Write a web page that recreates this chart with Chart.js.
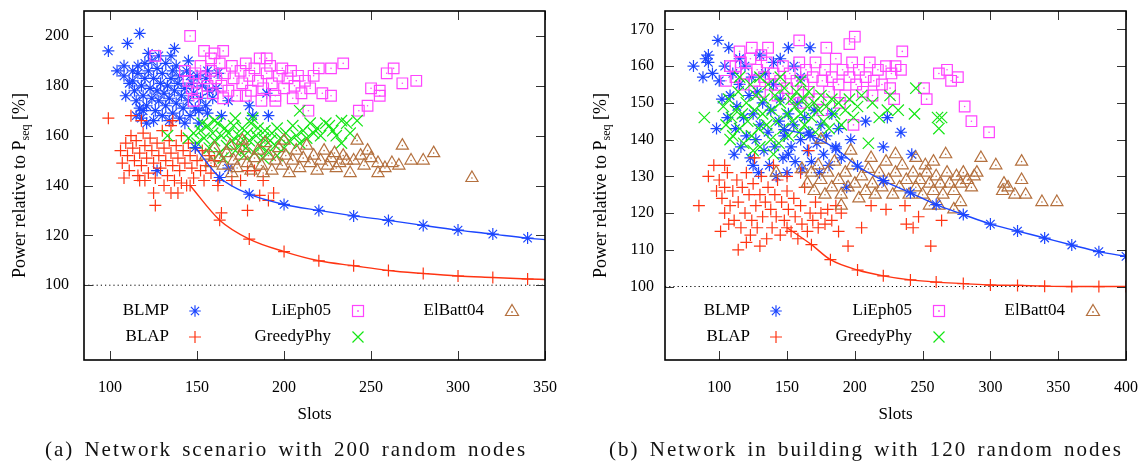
<!DOCTYPE html>
<html>
<head>
<meta charset="utf-8">
<script src="https://cdn.jsdelivr.net/npm/chart.js@4.4.1/dist/chart.umd.min.js"></script>
<style>
html, body { margin: 0; padding: 0; background: #fff; }
#wrap { position: relative; width: 1141px; height: 461px; overflow: hidden; }
canvas { position: absolute; top: 0; }
#chartA { left: 0; }
#chartB { left: 570px; }
.cap { position: absolute; top: 438px; font-family: "Liberation Serif", serif; font-size: 21px; letter-spacing: 2px; word-spacing: 3px;
       white-space: nowrap; transform: translateX(-50%); color: #111; line-height: 23px; }
</style>
</head>
<body>
<div id="wrap">
<canvas id="chartA" width="570" height="461"></canvas>
<canvas id="chartB" width="571" height="461"></canvas>
<div class="cap" style="left:286px">(a) Network scenario with 200 random nodes</div>
<div class="cap" style="left:866px">(b) Network in building with 120 random nodes</div>
</div>
<script>
// ---- (a) 200 random nodes ----
const xTicksA = [100, 150, 200, 250, 300, 350]
const yTicksA = [100, 120, 140, 160, 180, 200]

const blmpFitA = [[149,155.2],[163,143.2],[180,136.5],[200,132.4],[220,130],[240,127.8],[260,126],[280,124],[300,122.1],[320,120.5],[340,118.9],[350,118.3]]
const blapFitA = [[146,140],[163,126.1],[180,118.5],[200,113.5],[220,109.8],[240,107.8],[260,105.9],[280,104.7],[300,103.7],[320,103.1],[340,102.5],[350,102.3]]

const blmpA = [[99,194],[104,186],[108,188],[108,184],[110,197],[117,201],[116,188],[109,176],[119,170],[118,167],
    [127,146],[137,195],[135,192],[145,190],[156,186],[162,185],[168,174],[164,168],[156,169],[168,147],
    [180,172],[182,168],[191,168],[190,177],[151,165],[151,170],
    [113,182],[114,178],[115,174],[116,185],[118,180],[119,176],[120,183],[120,189],[121,172],[122,186],
    [123,179],[124,175],[124,190],[125,183],[126,170],[127,178],[127,187],[128,174],[129,181],[130,168],
    [130,185],[131,177],[132,172],[132,189],[133,180],[134,175],[135,183],[136,169],[136,186],[137,178],
    [138,173],[139,181],[140,167],[140,184],[141,176],[142,171],[143,179],[144,186],[145,174],[146,168],
    [147,181],[148,177],[149,171],[150,184],[152,175],[153,180],[155,172],[157,178],[159,175],[161,179],
    [117,171],[121,165],[125,166],[134,166],[143,165],[128,192],[122,193],[138,188],[146,184],[155,183],
    [113,186],[111,181],[115,168]]

const blapA = [[99,167],[112,168],[118,166],[126,132],[120,142],[135,137],[139,137],[136,166],[135,164],[179,130],
    [164,129],[194,137],[188,142],[183,146],[179,146],[175,142],[186,136],[191,134],[154,142],[162,142],
    [106,154],[107,149],[109,157],[110,152],[111,146],[112,160],[113,155],[114,150],[115,158],[116,144],
    [117,153],[118,148],[119,161],[120,156],[121,151],[122,145],[123,159],[124,154],[125,149],[126,143],
    [127,157],[128,152],[129,147],[130,162],[131,155],[132,150],[133,144],[134,158],[135,153],[136,148],
    [137,142],[138,156],[139,151],[140,146],[141,160],[142,154],[143,149],[144,140],[145,157],[146,152],
    [147,147],[148,143],[149,155],[150,150],[152,146],[153,154],[155,148],[157,152],[158,145],[160,150],
    [141,141],[131,140],[125,137],[117,142],[108,143],[170,142],[162,140]]

const liephA = [[146,200],[126,192],[276,182],[268,181],[263,187],[259,185],[255,176],[255,178],[250,179],[248,172],
    [243,170],[234,189],[227,187],[227,176],[214,170],[220,187],[222,177],[165,194],[154,194],[187,174],
    [160,193],[158,191],
    [143,186],[145,182],[147,179],[149,185],[150,177],[152,188],[154,183],[156,180],[158,186],[159,177],
    [161,183],[163,189],[164,180],[166,185],[168,178],[170,188],[171,183],[173,176],[175,186],[176,181],
    [178,189],[180,184],[181,178],[183,187],[185,182],[186,191],[188,179],[190,185],[192,188],[193,181],
    [195,176],[197,184],[199,187],[200,179],[202,183],[204,186],[206,180],[208,184],[210,177],[212,182],
    [215,179],[217,184],[148,174],[165,175],[178,176],[195,174],[205,175],[190,191]]

const greedyA = [[209,170],[242,166],[233,157],[233,166],[226,164],[172,167],[133,160],[145,159],
    [150,157],[152,162],[154,159],[156,164],[157,155],[159,161],[160,158],[162,165],[163,153],[164,160],
    [166,163],[167,156],[168,161],[170,158],[171,164],[172,154],[174,160],[175,157],[176,163],[178,155],
    [179,161],[180,158],[181,165],[183,153],[184,160],[185,163],[186,156],[188,159],[189,162],[190,154],
    [192,158],[193,161],[195,156],[196,163],[198,159],[200,155],[201,161],[203,158],[205,164],[207,160],
    [209,157],[211,162],[213,159],[215,165],[217,161],[219,163],[221,160],[224,165],[228,162],[230,160],
    [236,165],[238,161],[165,151],[177,152],[188,151],[196,152],[182,167],[160,166],[153,165],[148,161]]

const elbattA = [[308,143],[286,153],[280,150],[273,150],[268,156],[266,148],[254,149],[254,145],[248,154],[246,148],
    [242,158],[238,145],[230,147],
    [155,152],[158,149],[160,155],[163,151],[165,148],[167,153],[169,156],[171,150],[173,147],[175,152],
    [177,155],[179,149],[181,146],[183,151],[185,154],[187,148],[189,157],[191,152],[193,146],[195,150],
    [197,155],[199,148],[201,152],[203,145],[205,150],[207,154],[209,147],[211,151],[213,156],[215,149],
    [217,152],[219,146],[221,150],[223,154],[225,148],[227,151],[229,153],[232,149],[234,152],[236,150],
    [240,150],[244,152],[250,151],[258,147],[262,149],[170,145],[188,145],[200,158],[176,158]]

// ---- (b) building, 120 random nodes ----
const xTicksB = [100, 150, 200, 250, 300, 350, 400]
const yTicksB = [100, 110, 120, 130, 140, 150, 160, 170]

const blmpFitB = [[148,142.7],[167,141.1],[186,137.5],[202,132.8],[221,128.8],[241,125.5],[260,122.3],[280,119.6],
    [300,117],[320,115.1],[340,113.2],[360,111.3],[380,109.5],[400,108.2]]
const blapFitB = [[150,116],[168,111.4],[182,107.3],[202,104.5],[221,102.9],[241,101.8],[260,101.2],[280,100.8],
    [300,100.4],[320,100.3],[340,100.1],[360,100],[380,100],[400,100]]

const blmpB = [[81,160],[99,167],[107,165],[92,163],[92,161],[98,143],[102,151],[111,136],[125,133],[151,136],
    [167,165],[151,165],[221,138],[242,136],[234,142],[224,146],[208,145],[197,140],[194,127],
    [88,157],[90,162],[95,158],[100,156],[104,160],[106,146],[108,152],[110,158],[112,143],[113,149],
    [115,155],[116,138],[118,146],[119,160],[120,141],[122,152],[123,135],[124,157],[125,147],[127,140],
    [128,153],[129,131],[130,144],[132,150],[133,137],[134,158],[136,142],[137,133],[138,148],[140,155],
    [141,138],[142,130],[144,145],[145,151],[147,135],[148,141],[150,131],[151,147],[153,138],[155,144],
    [156,134],[158,150],[160,140],[161,132],[163,146],[165,137],[166,142],[168,134],[170,148],[172,139],
    [174,131],[175,144],[177,136],[179,141],[181,133],[183,147],[186,138],[188,143],[190,135],[160,157],
    [145,162],[130,163],[115,162],[140,161],[155,160]]

const blapB = [[85,122],[92,130],[96,133],[104,133],[101,115],[114,110],[104,120],[126,135],[166,137],[195,111],
    [188,115],[205,116],[212,122],[223,121],[237,122],[247,119],[238,117],[243,116],[256,111],[264,118],
    [98,126],[100,129],[102,124],[104,127],[106,131],[108,122],[110,126],[111,118],[113,129],[114,123],
    [116,116],[117,127],[119,120],[120,131],[122,125],[123,114],[124,118],[125,128],[127,122],[128,116],
    [130,125],[131,130],[132,119],[134,123],[135,113],[136,127],[138,121],[139,116],[141,125],[142,119],
    [143,129],[145,114],[146,123],[148,118],[150,126],[151,121],[153,115],[155,124],[156,119],[158,113],
    [160,122],[161,117],[163,127],[165,115],[167,120],[169,118],[171,123],[173,116],[175,120],[178,117],
    [180,121],[183,118],[186,122],[190,120],[120,112],[130,111],[107,117],[140,133],[150,130],[160,131]]

const liephB = [[299,142],[286,145],[281,149],[276,157],[271,156],[268,159],[262,158],[253,151],[251,154],[235,164],
    [234,159],[229,151],[226,154],[200,168],[196,166],[159,167],[136,165],[179,165],[199,144],[105,156],
    [115,164],[112,160],[124,165],[131,163],
    [108,160],[112,157],[116,161],[118,155],[120,158],[123,162],[126,156],[128,159],[130,153],[133,157],
    [135,161],[138,155],[140,158],[143,152],[145,156],[147,160],[150,154],[152,158],[155,151],[157,156],
    [159,161],[162,155],[164,159],[166,153],[169,157],[171,161],[173,151],[176,156],[178,159],[181,153],
    [183,157],[186,162],[188,155],[191,159],[193,152],[196,157],[198,161],[201,155],[203,159],[206,153],
    [208,157],[211,161],[214,156],[217,159],[220,155],[223,160],[227,158],[230,160],[189,150],[176,148],
    [213,152],[160,150]]

const greedyB = [[89,146],[108,140],[210,139],[245,154],[244,147],[261,146],[262,143],[264,146],[224,148],[218,146],
    [213,150],[226,152],[232,148],
    [103,149],[105,144],[107,151],[109,146],[110,141],[112,148],[114,153],[115,143],[117,147],[118,139],
    [120,150],[121,145],[123,155],[124,141],[126,148],[127,152],[129,143],[130,138],[132,147],[133,151],
    [135,144],[136,155],[138,140],[139,148],[141,152],[142,145],[144,139],[145,150],[147,143],[148,154],
    [150,147],[151,141],[153,151],[154,145],[156,149],[157,153],[159,142],[160,147],[162,151],[163,144],
    [165,149],[166,153],[168,146],[170,150],[171,142],[173,148],[175,152],[177,145],[179,149],[181,143],
    [183,151],[185,147],[188,150],[190,144],[193,148],[196,151],[199,146],[202,149],[205,152],[115,157],
    [130,157],[145,157],[160,156],[140,136],[125,137]]

const elbattB = [[349,123],[338,123],[326,125],[323,129],[323,134],[318,125],[309,126],[304,133],[293,135],[290,131],
    [267,136],[252,133],[197,137],[175,140],[161,132],[142,131],[273,121],[278,123],[313,127],[310,128],
    [165,128],[168,131],[170,126],[173,133],[175,129],[178,125],[180,131],[183,127],[185,134],[188,129],
    [190,125],[193,131],[195,127],[198,133],[200,128],[203,124],[205,130],[208,126],[210,132],[213,128],
    [215,125],[218,131],[220,127],[223,134],[225,129],[228,125],[230,131],[233,127],[235,133],[238,129],
    [240,125],[243,131],[245,127],[248,129],[250,125],[253,131],[255,128],[258,126],[260,130],[263,128],
    [265,125],[268,131],[270,128],[273,126],[275,130],[278,128],[280,131],[283,129],[286,127],[288,130],
    [230,136],[212,135],[245,135],[258,134],[190,122],[255,122],[262,122]]

const FONT = '"Liberation Serif", "Times New Roman", serif'
const colors = {
    blue: '#1c46ff',
    red: '#ff3412',
    magenta: '#ff44ff',
    green: '#14e614',
    brown: '#b4703e',
}

function pts(list) { return list.map((p) => ({x: p[0], y: p[1]})) }

// small hand drawn markers for the legend, gnuplot style
function drawSym(ctx, style, x, y, color) {
    ctx.save()
    ctx.strokeStyle = color
    ctx.fillStyle = color
    ctx.lineWidth = 1.2
    ctx.beginPath()
    if (style == 'star') {
        const r = 5.8, d = 4.1
        ctx.moveTo(x - r, y); ctx.lineTo(x + r, y)
        ctx.moveTo(x, y - r); ctx.lineTo(x, y + r)
        ctx.moveTo(x - d, y - d); ctx.lineTo(x + d, y + d)
        ctx.moveTo(x - d, y + d); ctx.lineTo(x + d, y - d)
        ctx.stroke()
    } else if (style == 'cross') {
        const r = 6
        ctx.moveTo(x - r, y); ctx.lineTo(x + r, y)
        ctx.moveTo(x, y - r); ctx.lineTo(x, y + r)
        ctx.stroke()
    } else if (style == 'crossRot') {
        const d = 5.5
        ctx.moveTo(x - d, y - d); ctx.lineTo(x + d, y + d)
        ctx.moveTo(x - d, y + d); ctx.lineTo(x + d, y - d)
        ctx.stroke()
    } else if (style == 'rect') {
        ctx.strokeRect(x - 5.5, y - 5.5, 11, 11)
        ctx.fillRect(x - 0.8, y - 0.8, 1.6, 1.6)
    } else if (style == 'triangle') {
        ctx.moveTo(x, y - 6.5); ctx.lineTo(x + 6.5, y + 4.5); ctx.lineTo(x - 6.5, y + 4.5); ctx.closePath()
        ctx.stroke()
        ctx.fillRect(x - 0.8, y + 0.2, 1.6, 1.6)
    }
    ctx.restore()
}

const gnuplotLook = {
    id: 'gnuplotLook',
    afterDraw(chart, args, opts) {
        const ctx = chart.ctx
        const ca = chart.chartArea
        const xs = chart.scales.x, ys = chart.scales.y
        ctx.save()
        // inner tick marks on all four sides
        ctx.strokeStyle = '#333'
        ctx.lineWidth = 1
        ctx.beginPath()
        opts.xTicks.forEach((v) => {
            const px = Math.round(xs.getPixelForValue(v)) + 0.5
            ctx.moveTo(px, ca.bottom); ctx.lineTo(px, ca.bottom - 9)
            ctx.moveTo(px, ca.top); ctx.lineTo(px, ca.top + 9)
        })
        opts.yTicks.forEach((v) => {
            const py = Math.round(ys.getPixelForValue(v)) + 0.5
            ctx.moveTo(ca.left, py); ctx.lineTo(ca.left + 9, py)
            ctx.moveTo(ca.right, py); ctx.lineTo(ca.right - 9, py)
        })
        ctx.stroke()
        // frame
        ctx.strokeStyle = '#000'
        ctx.lineWidth = 1.6
        ctx.strokeRect(ca.left, ca.top, ca.right - ca.left, ca.bottom - ca.top)

        // y axis title with subscript
        ctx.fillStyle = '#000'
        ctx.translate(opts.titleX, (ca.top + ca.bottom) / 2)
        ctx.rotate(-Math.PI / 2)
        const mainFont = '18px ' + FONT, subFont = '12px ' + FONT
        const a = 'Power relative to P', s = 'seq', b = ' [%]'
        ctx.font = mainFont
        const wa = ctx.measureText(a).width, wb = ctx.measureText(b).width
        ctx.font = subFont
        const ws = ctx.measureText(s).width
        let x0 = -(wa + ws + wb) / 2
        ctx.textBaseline = 'alphabetic'
        ctx.textAlign = 'left'
        ctx.font = mainFont
        ctx.fillText(a, x0, 6)
        ctx.font = subFont
        ctx.fillText(s, x0 + wa, 10)
        ctx.font = mainFont
        ctx.fillText(b, x0 + wa + ws, 6)
        ctx.restore()

        // legend inside the plot, labels right aligned then the symbol
        const items = [
            {label: 'BLMP', style: 'star', color: colors.blue, col: 0, row: 0},
            {label: 'BLAP', style: 'cross', color: colors.red, col: 0, row: 1},
            {label: 'LiEph05', style: 'rect', color: colors.magenta, col: 1, row: 0},
            {label: 'GreedyPhy', style: 'crossRot', color: colors.green, col: 1, row: 1},
            {label: 'ElBatt04', style: 'triangle', color: colors.brown, col: 2, row: 0},
        ]
        const colText = [85, 247, 400]
        const colSym = [111, 274, 428]
        const rowY = [311, 337]
        ctx.save()
        ctx.font = '17px ' + FONT
        ctx.fillStyle = '#000'
        ctx.textAlign = 'right'
        ctx.textBaseline = 'middle'
        items.forEach((it) => {
            ctx.fillText(it.label, ca.left + colText[it.col], rowY[it.row])
            drawSym(ctx, it.style, ca.left + colSym[it.col], rowY[it.row], it.color)
        })
        ctx.restore()
    }
}

function scatterSet(data, color, style, radius, order) {
    return {
        type: 'scatter',
        data: pts(data),
        pointStyle: style,
        pointRadius: radius,
        borderColor: color,
        backgroundColor: 'rgba(0,0,0,0)',
        pointBorderWidth: 1.2,
        order: order,
    }
}

function dotSet(data, color, order) {
    return {
        type: 'scatter',
        data: pts(data),
        pointStyle: 'circle',
        pointRadius: 0.8,
        borderWidth: 0,
        backgroundColor: color,
        order: order,
    }
}

function fitSet(data, color, style, markMax, order) {
    return {
        type: 'line',
        data: pts(data),
        borderColor: color,
        backgroundColor: 'rgba(0,0,0,0)',
        borderWidth: 1.4,
        pointStyle: style,
        pointRadius: (c) => (c.raw && c.raw.x > markMax) ? 0 : 6,
        pointBorderWidth: 1.2,
        cubicInterpolationMode: 'monotone',
        fill: false,
        order: order,
    }
}

function drawPanel(id, d) {
    var ctx = document.getElementById(id).getContext('2d')
    const datasets = [
        fitSet(d.blmpFit, colors.blue, 'star', d.markMax, 0),
        fitSet(d.blapFit, colors.red, 'cross', d.markMax, 1),
        dotSet(d.elbatt, colors.brown, 2),
        scatterSet(d.elbatt, colors.brown, 'triangle', 7, 3),
        scatterSet(d.greedy, colors.green, 'crossRot', 8, 4),
        dotSet(d.lieph, colors.magenta, 5),
        scatterSet(d.lieph, colors.magenta, 'rect', 7.5, 6),
        scatterSet(d.blap, colors.red, 'cross', 6, 7),
        scatterSet(d.blmp, colors.blue, 'star', 6, 8),
        {
            type: 'line',
            data: [{x: d.xMin, y: 100}, {x: d.xMax, y: 100}],
            borderColor: '#000',
            borderWidth: 1,
            borderDash: [1.2, 3],
            pointRadius: 0,
            fill: false,
            order: 9,
        },
    ]
    return new Chart(ctx, {
        type: 'scatter',
        data: {datasets: datasets},
        options: {
            responsive: false,
            animation: false,
            events: [],
            layout: {padding: {left: 0, right: d.padRight, top: 11, bottom: 0}},
            plugins: {
                legend: {display: false},
                tooltip: {enabled: false},
                gnuplotLook: {xTicks: d.xTicks, yTicks: d.yTicks, titleX: d.titleX},
            },
            scales: {
                x: {
                    type: 'linear',
                    min: d.xMin,
                    max: d.xMax,
                    afterBuildTicks: (s) => { s.ticks = d.xTicks.map((v) => ({value: v})) },
                    afterFit: (s) => { s.height = 101; s.paddingLeft = 0; s.paddingRight = 0 },
                    grid: {display: false, drawTicks: false},
                    border: {display: false},
                    ticks: {padding: 18, color: '#000', font: {family: FONT, size: 16}, maxRotation: 0, autoSkip: false},
                    title: {display: true, text: 'Slots', color: '#000', font: {family: FONT, size: 17}, padding: {top: 0, bottom: 36}},
                },
                y: {
                    type: 'linear',
                    min: d.yMin,
                    max: d.yMax,
                    afterBuildTicks: (s) => { s.ticks = d.yTicks.map((v) => ({value: v})) },
                    afterFit: (s) => { s.width = d.yWidth; s.paddingTop = 0; s.paddingBottom = 0 },
                    grid: {display: false, drawTicks: false},
                    border: {display: false},
                    ticks: {padding: d.yPad, color: '#000', font: {family: FONT, size: 16}, autoSkip: false},
                },
            },
        },
        plugins: [gnuplotLook],
    })
}

drawPanel('chartA', {
    blmp: blmpA, blap: blapA, lieph: liephA, greedy: greedyA, elbatt: elbattA,
    blmpFit: blmpFitA, blapFit: blapFitA, markMax: 345,
    xTicks: xTicksA, yTicks: yTicksA,
    xMin: 85, xMax: 350, yMin: 70, yMax: 210,
    padRight: 25, yWidth: 84, yPad: 15, titleX: 19,
})

drawPanel('chartB', {
    blmp: blmpB, blap: blapB, lieph: liephB, greedy: greedyB, elbatt: elbattB,
    blmpFit: blmpFitB, blapFit: blapFitB, markMax: 400,
    xTicks: xTicksB, yTicks: yTicksB,
    xMin: 60, xMax: 400, yMin: 80, yMax: 175,
    padRight: 15, yWidth: 95, yPad: 11, titleX: 29.5,
})
</script>
</body>
</html>
